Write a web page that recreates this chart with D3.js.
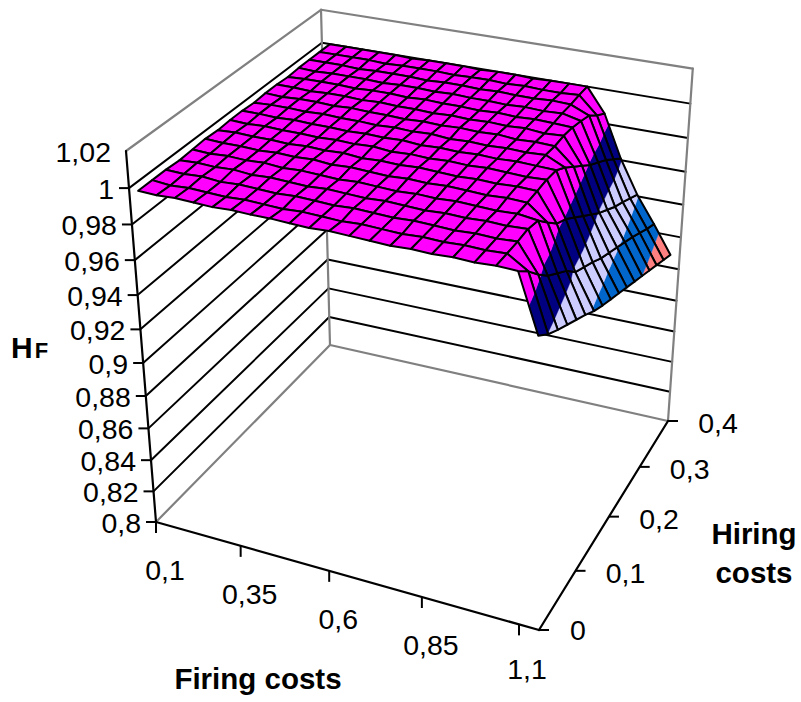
<!DOCTYPE html>
<html><head><meta charset="utf-8">
<style>html,body{margin:0;padding:0;background:#fff}svg{display:block}text{font-family:"Liberation Sans",Arial,sans-serif;fill:#000}</style>
<script src="https://cdn.jsdelivr.net/npm/d3@7/dist/d3.min.js"></script>
</head><body><svg id="c" width="801" height="702"></svg>
<script>
const firingCosts=[0.1,0.15,0.2,0.25,0.3,0.35,0.4,0.45,0.5,0.55,0.6,0.65,0.7,0.75,0.8,0.85,0.9,0.95,1,1.05,1.1];
const hiringCosts=[0,0.025,0.05,0.075,0.1,0.125,0.15,0.175,0.2,0.225,0.25,0.275,0.3,0.325,0.35,0.375,0.4];
const firingTicks=["0,1","0,35","0,6","0,85","1,1"];
const hiringTicks=["0","0,1","0,2","0,3","0,4"];
const valueTicks=[0.8,0.82,0.84,0.86,0.88,0.9,0.92,0.94,0.96,0.98,1,1.02];
const bandColors=["#9999ff","#993366","#ffffcc","#ccffff","#660066","#ff8080","#0066cc","#ccccff","#000080","#ff00ff"];
// HF, one row per hiring cost, one column per firing cost
const hF=[
[.9995,.999,.9995,.999,.9985,.999,.9985,.9985,.998,.9975,.998,.9975,.997,.9965,.997,.9965,.997,.9965,.997,.9965,.9656],
[.9995,.9985,.999,.9985,.998,.9985,.998,.9975,.998,.9975,.997,.9975,.997,.9965,.997,.9965,.997,.9965,.997,.990,.9595],
[.9995,.999,.9995,.9985,.999,.9985,.998,.9985,.998,.9975,.998,.9975,.997,.9975,.997,.9965,.997,.9965,.997,.982,.955],
[.999,.9995,.999,.9995,.9985,.999,.9985,.998,.9985,.998,.9975,.998,.9975,.997,.9975,.997,.9975,.997,.9975,.975,.951],
[.9995,.999,.9995,.999,.9995,.9985,.999,.9985,.998,.9985,.998,.9975,.998,.9975,.998,.9975,.997,.9975,.996,.970,.947],
[1,.9995,.9995,.999,.9995,.999,.9995,.9985,.999,.9985,.998,.9985,.998,.9985,.998,.9975,.998,.9975,.989,.965,.943],
[.9995,1,.9995,.9995,.999,.9995,.999,.9995,.9985,.999,.9985,.999,.9985,.998,.9985,.998,.9985,.998,.9825,.958,.9385],
[1,.9995,1,.9995,.9995,.999,.9995,.999,.9995,.9985,.999,.9985,.999,.9985,.999,.9985,.998,.9985,.979,.9545,.935],
[1,1,.9995,1,.9995,.9995,.999,.9995,.999,.9995,.9985,.999,.9985,.999,.9985,.999,.9985,.998,.974,.951,.932],
[.9995,1,1,.9995,1,.9995,.9995,.999,.9995,.999,.9995,.9985,.999,.9985,.999,.9985,.999,.994,.969,.947,.929],
[1,.9995,1,1,.9995,1,.9995,.9995,.999,.9995,.999,.9995,.999,.9995,.9985,.999,.9985,.989,.964,.944,.926],
[1,1,.9995,1,1,.9995,1,.9995,.9995,.999,.9995,.999,.9995,.999,.9995,.9985,.999,.984,.959,.941,.923],
[.9995,1,1,1,.9995,1,1,.9995,1,.9995,.9995,.999,.9995,.999,.9995,.999,.9985,.979,.955,.938,.920],
[1,.9995,1,1,1,.9995,1,1,.9995,1,.9995,.9995,.999,.9995,.999,.9995,.997,.975,.951,.935,.917],
[1,1,1,.9995,1,1,1,.9995,1,1,.9995,1,.9995,.9995,1,.9995,.995,.971,.948,.9315,.914],
[1,1,1,1,.9995,1,1,1,.9995,1,1,.9995,1,.9995,.9995,1,.990,.966,.9445,.928,.911],
[1,1,1,1,1,.9995,1,1,1,.9995,1,1,.9995,1,1,1,.986,.961,.941,.925,.908]
];

const uScale=d3.scaleBand().domain(firingCosts).range([0,1]);
const uOf=f=>uScale(f)+uScale.bandwidth()/2;
const vScale=d3.scaleLinear().domain([0,0.4]).range([0,1]);
const wScale=d3.scaleLinear().domain([0.8,1.02]).range([0,1]);

// perspective camera of the box
function den(u,v,w){return 1-0.09194*u+0.16822*v-0.1*w;}
function project(u,v,w){
  const d=den(u,v,w);
  return [(156+333.44*u+229.51*v-42.6*w)/d,
          (522+50.08*u-118.96*v-386.1*w-6.5*v*w*(1-u))/d];
}
const svg=d3.select("#c");
const line=d3.line();
function seg(a,b,col,sw){svg.append("path").attr("d",line([project(...a),project(...b)])).attr("fill","none").attr("stroke",col).attr("stroke-width",sw).attr("stroke-linecap","round");}
const GR="#808080",BK="#000";

// walls
valueTicks.slice(1,-1).forEach(z=>{const w=wScale(z);
  seg([0,0,w],[0,1,w],BK,2);seg([0,1,w],[1,1,w],BK,2);});
seg([0,0,0],[0,1,0],GR,2.2);seg([0,1,0],[1,1,0],GR,2.2);
seg([0,1,0],[0,1,1],GR,2.2);seg([1,1,0],[1,1,1],GR,2.2);
seg([0,0,1],[0,1,1],GR,2.2);seg([0,1,1],[1,1,1],GR,2.2);

// surface cells, far to near
const cells=[];
for(let j=0;j<hiringCosts.length-1;j++)for(let i=0;i<firingCosts.length-1;i++){
  const c=[[i,j],[i+1,j],[i+1,j+1],[i,j+1]].map(([a,b])=>({u:uOf(firingCosts[a]),v:vScale(hiringCosts[b]),z:hF[b][a]}));
  cells.push({c,d:d3.mean(c,p=>den(p.u,p.v,wScale(p.z)))});
}
cells.sort((a,b)=>d3.descending(a.d,b.d));
function clip(poly,t,keepAbove){
  const out=[];
  for(let k=0;k<poly.length;k++){
    const a=poly[k],b=poly[(k+1)%poly.length];
    const ia=keepAbove?a.z>=t:a.z<=t, ib=keepAbove?b.z>=t:b.z<=t;
    if(ia)out.push(a);
    if(ia!==ib){const s=(t-a.z)/(b.z-a.z);out.push({u:a.u+s*(b.u-a.u),v:a.v+s*(b.v-a.v),z:t});}
  }
  return out;
}
const P=p=>project(p.u,p.v,wScale(p.z));
const closed=d3.line().curve(d3.curveLinearClosed);
const gS=svg.append("g");
cells.forEach(cell=>{
  const cg=gS.append("g");
  bandColors.forEach((col,b)=>{
    const lo=valueTicks[b],hi=valueTicks[b+1];
    let poly=clip(cell.c,lo,true);
    if(poly.length)poly=clip(poly,hi,false);
    if(poly.length>2)cg.append("path").attr("d",closed(poly.map(P))).attr("fill",col).attr("stroke",col).attr("stroke-width",0.4);
  });
  cg.append("path").attr("d",closed(cell.c.map(P))).attr("fill","none").attr("stroke","#000").attr("stroke-width",2).attr("stroke-linejoin","round");
});

// axes
seg([0,0,0],[0,0,1],BK,2.2);seg([0,0,0],[1,0,0],BK,2.2);seg([1,0,0],[1,1,0],BK,2.2);
const FS=28.5;
function label(x,y,t,anchor){svg.append("text").attr("x",x).attr("y",y).attr("text-anchor",anchor).attr("dominant-baseline","central").attr("font-size",FS).text(t);}
const fmt=z=>String(z).replace(".",",");
valueTicks.forEach(z=>{
  const [x,y]=project(0,0,wScale(z));
  if(z<1.01)svg.append("path").attr("d",line([[x,y],[x-10,y]])).attr("stroke",BK).attr("stroke-width",2);
  label(x-15,y+1,fmt(z),"end");
});
firingTicks.forEach((t,k)=>{
  const [x,y]=project(uScale(firingCosts[k*5]),0,0);
  svg.append("path").attr("d",line([[x,y],[x,y+11]])).attr("stroke",BK).attr("stroke-width",2);
  label(x+(k===4?8:9),y+(k===4?45:48),t,"middle");
});
hiringTicks.forEach((t,k)=>{
  const [x,y]=project(1,vScale(hiringCosts[k*4]),0);
  svg.append("path").attr("d",line([[x,y],[x+10,y]])).attr("stroke",BK).attr("stroke-width",2);
  label(x+(k===0?39:50),y+(k===0?0:2),t,"middle");
});
function title(x,y,t){svg.append("text").attr("x",x).attr("y",y).attr("text-anchor","middle").attr("dominant-baseline","central").attr("font-size",29.5).attr("font-weight","bold").text(t);}
title(258,678,"Firing costs");title(754,533,"Hiring");title(754,572,"costs");
const hf=svg.append("text").attr("x",11).attr("y",358).attr("font-weight","bold");
hf.append("tspan").attr("font-size",30).text("H");
hf.append("tspan").attr("font-size",22).attr("dx",2).text("F");
</script></body></html>
